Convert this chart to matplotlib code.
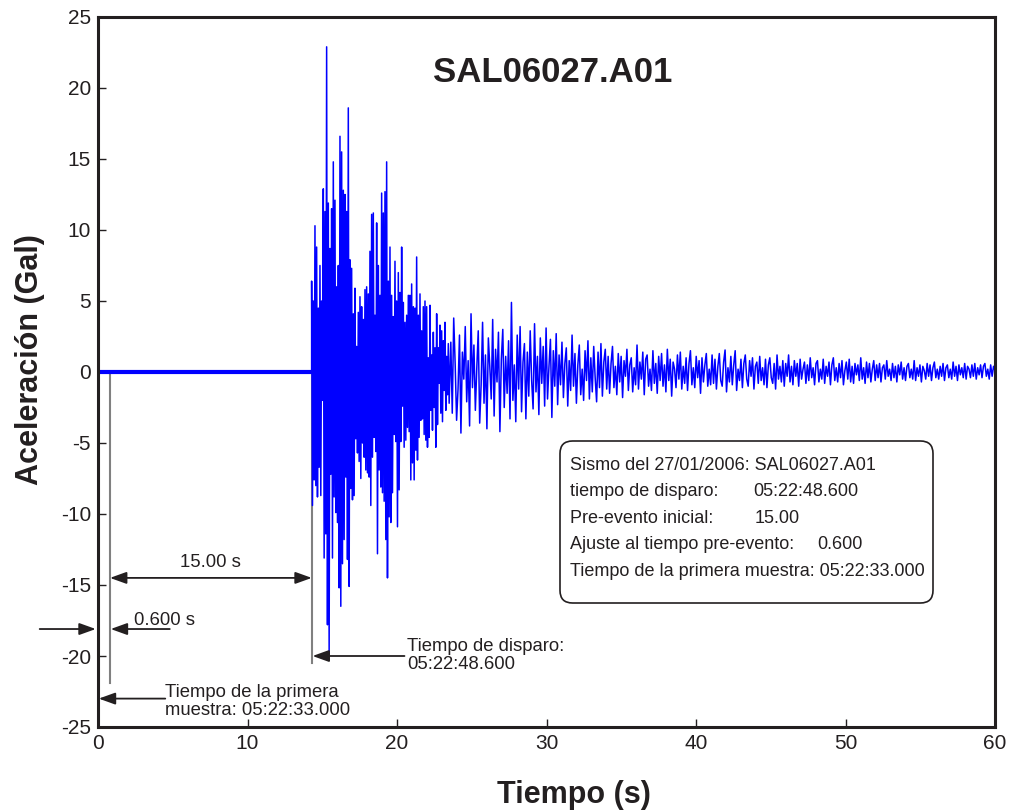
import numpy as np
import matplotlib
matplotlib.use("Agg")
import matplotlib.pyplot as plt
from matplotlib.patches import FancyBboxPatch

plt.rcParams["font.family"] = ["Liberation Sans", "DejaVu Sans"]
plt.rcParams["axes.unicode_minus"] = False

# --- datos ---
# pre-evento (senal plana)
pre_t = [0.1, 14.29]
pre_acc = [0.0, 0.0]

# fase fuerte: picos y valles alternados, cada 0.1115 s desde 14.29 s
strong_t0 = 14.29
strong_step = 0.1115
strong_peaks = [
    6.4, 5.0, 10.3, 8.8, 4.5, 7.5, 5.0, 12.9, 11.3, 22.9,
    11.9, 8.7, 11.5, 14.8, 12.1, 6.0, 7.5, 16.6, 15.5, 12.8,
    12.5, 11.3, 18.6, 7.9, 7.3, 4.1, 5.9, 1.8, 4.2, 5.3,
    4.6, 3.7, 5.8, 6.0, 5.5, 8.5, 11.1, 11.2, 4.0, 10.5,
    7.5, 5.4, 12.6, 11.2, 12.7, 14.8, 6.4, 8.8, 5.4, 3.9,
    7.8, 5.0, 7.0, 5.6, 8.8, 4.9, 3.5, 4.0, 5.4, 5.4,
    6.2, 4.6, 4.5, 8.1, 4.0, 5.5, 2.9, 4.6, 5.0, 4.6,
    1.0, 4.7, 1.2, 2.8, 1.7, 4.1, 1.7, 3.3, 2.9, 2.2,
    3.5, 1.1, 2.0,
]
strong_troughs = [
    -9.4, -7.6, -8.0, -8.8, -6.7, -8.7, -2.0, -13.1, -11.4, -17.8,
    -19.9, -7.2, -13.1, -8.8, -9.9, -10.6, -15.2, -16.5, -13.5, -11.8,
    -7.4, -13.2, -15.1, -8.2, -9.0, -8.7, -4.7, -5.7, -6.3, -7.5,
    -5.0, -6.0, -6.9, -7.1, -7.4, -9.4, -6.0, -4.6, -5.6, -12.8,
    -6.9, -8.1, -8.5, -9.1, -11.8, -14.5, -10.2, -10.6, -8.5, -4.4,
    -4.9, -10.9, -8.3, -4.9, -2.4, -5.3, -4.8, -3.9, -4.2, -7.6,
    -6.4, -7.6, -5.5, -6.2, -4.6, -3.4, -3.3, -4.4, -4.8, -5.3,
    -4.6, -2.7, -4.1, -2.5, -5.3, -3.7, -0.8, -2.9, -3.5, -1.3,
    -2.7, -1.6, -2.2,
]

# coda: muestras de 23.6 s a 60 s
tail_t0 = 23.6
tail_t1 = 60.0
tail_acc = [
    # 23.6 - 27.7
    2.1, -2.9, 3.8, 0.6, -3.4, -1.2, 2.6, -4.3, 1.4, -0.5, 3.2, -2.1, 0.8, -3.8,
    4.1, -1.1, 1.9, -2.7, 0.3, 2.9, -3.6, -0.9, 3.5, -2.2, 1.2, -4.0, 2.4, 0.4,
    -1.9, 3.7, -3.1, 1.6, -0.7, 2.8, -4.2, 0.9, 3.0, -2.5, 1.1, -1.5, 2.2, -3.3,
    # 27.7 - 30.7
    4.9, -2.0, 0.5, -3.5, 2.6, -1.2, 3.2, -2.8, 0.7, 2.0, -3.3, 1.4, -1.7, 2.9,
    -0.6, -2.6, 3.4, -1.4, 1.1, -3.0, 2.4, -0.8, 1.8, -2.4, 3.1, -1.9, 0.4, 2.3,
    -3.2, 1.5, -1.0, 2.7,
    # 30.7 - 34.2
    -2.3, 1.2, -0.9, 2.1, -1.8, 0.6, 1.7, -2.4, 0.8, -1.3, 2.6, -1.0, 1.3, -2.2,
    0.5, 1.9, -1.6, 0.2, -2.0, 1.5, -0.6, 2.2, -1.9, 1.0, -1.4, 1.8, -0.4, -2.1,
    1.4, -1.1, 2.0, -1.7, 0.7, 1.6, -1.2, 1.1,
    # 34.2 - 37.7
    -1.5, 0.6, 1.8, -1.1, 0.4, -1.6, 1.3, -0.7, 1.1, -1.8, 0.8, -0.3, 1.6, -1.3,
    0.5, 1.0, -1.4, 0.3, -0.9, 1.9, -1.2, 0.7, -0.5, 1.4, -1.6, 0.9, 1.2, -1.0,
    0.2, -1.3, 1.5, -0.8, 0.6, -1.5, 1.1, -0.6,
    # 37.7 - 41.2
    1.3, -1.0, 0.5, -1.4, 1.6, -0.6, 0.9, -1.7, 0.7, 0.2, -1.1, 1.2, -0.5, 1.4,
    -1.2, 0.4, -0.8, 1.0, -1.3, 0.6, 1.5, -0.9, 0.3, -1.1, 1.1, -0.4, 0.8, -1.5,
    1.0, -0.7, 0.5, 1.3, -1.0, 0.2, -0.9, 1.2,
    # 41.2 - 46.2
    -0.8, 0.9, -1.2, 0.4, 1.3, -0.6, -1.0, 0.7, 1.55, -1.4, 0.3, -0.7, 1.1, -0.9,
    0.5, 1.5, -1.3, 0.2, -0.6, 0.9, -1.1, 0.6, 1.2, -0.5, -1.0, 0.8, -0.3, 1.0,
    -1.2, 0.4, 0.7, -0.8, 1.1, -0.6, 0.3, -0.9, 0.9, -1.1, 0.5, 1.0, -0.4, -0.8,
    0.6, -1.2, 1.2, -0.5, 0.4, -0.7, 0.8, -1.0, 0.6, -0.3,
    # 46.2 - 52.2
    1.2, -0.7, 0.4, -0.9, 0.8, -0.3, 0.6, -1.0, 0.9, -0.5, 0.2, 0.7, -0.8, 0.5,
    -0.6, 1.0, -0.4, 0.3, -0.9, 0.6, 0.8, -0.7, 0.2, -0.5, 0.9, -0.8, 0.4, -0.3,
    0.7, -0.9, 0.5, 1.0, -0.6, 0.3, -0.7, 0.6, -0.4, 0.8, -0.9, 0.1, 0.7, -0.5,
    0.9, -0.7, 0.4, -0.8, 0.6, -0.2, 0.5, -0.6, 1.0, -0.5, 0.3, -0.8, 0.7, -0.4,
    0.6, -0.7, 0.2, 0.8, -0.6, 0.5,
    # 52.2 - 60
    -0.4, 0.6, -0.7, 0.3, 0.5, -0.5, 0.8, -0.3, 0.2, -0.6, 0.6, -0.4, 0.4, -0.7,
    0.5, -0.2, 0.7, -0.5, 0.3, -0.6, 0.4, 0.6, -0.4, 0.2, -0.5, 0.8, -0.6, 0.3,
    -0.3, 0.5, -0.7, 0.4, 0.1, -0.5, 0.6, -0.3, 0.5, -0.6, 0.3, 0.7, -0.4, 0.2,
    -0.5, 0.4, -0.3, 0.6, -0.6, 0.3, 0.5, -0.4, 0.2, -0.5, 0.7, -0.3, 0.4, -0.6,
    0.5, -0.2, 0.3, -0.4, 0.6, -0.5, 0.4, 0.2, -0.4, 0.5, -0.3, 0.6, -0.5, 0.3,
    -0.2, 0.5, -0.4, 0.4, 0.6, -0.3, 0.2, -0.5, 0.5, -0.3, 0.4, 0.1,
]

x_ticks = [0, 10, 20, 30, 40, 50, 60]
y_ticks = [-25, -20, -15, -10, -5, 0, 5, 10, 15, 20, 25]

info_lines = [
    ("Sismo del 27/01/2006: SAL06027.A01", None),
    ("tiempo de disparo:", "05:22:48.600"),
    ("Pre-evento inicial:", "15.00"),
    ("Ajuste al tiempo pre-evento:", "0.600"),
    ("Tiempo de la primera muestra: 05:22:33.000", None),
]

# --- serie completa ---
strong_acc = np.column_stack([strong_peaks, strong_troughs]).ravel()
strong_t = strong_t0 + np.arange(len(strong_acc)) * strong_step / 2
tail_t = np.linspace(tail_t0, tail_t1, len(tail_acc))
t = np.concatenate([pre_t, strong_t, tail_t])
acc = np.concatenate([pre_acc, strong_acc, tail_acc])

dark = "#231f20"
grey = "#808080"

fig = plt.figure(figsize=(10.13, 8.11), dpi=100)
ax = fig.add_axes([98 / 1013, 1 - 727 / 811, 897 / 1013, 710 / 811])

# lineas guia grises
ax.plot([0.8, 0.8], [0, -21.9], color=grey, lw=1.5, zorder=1)
ax.plot([14.3, 14.3], [0, -20.5], color=grey, lw=1.5, zorder=1)

ax.plot(pre_t, pre_acc, color="#0000ff", lw=3.0, zorder=2, solid_capstyle="butt")
ax.plot(t, acc, color="#0000ff", lw=1.1, zorder=2)

ax.set_xlim(0, 60)
ax.set_ylim(-25, 25)
ax.set_xticks(x_ticks)
ax.set_yticks(y_ticks)
ax.tick_params(direction="in", length=6, width=1, labelsize=15, colors=dark,
               top=False, right=False, pad=5)
for s in ax.spines.values():
    s.set_linewidth(2.2)
    s.set_color(dark)

ax.text(30.4, 21.1, "SAL06027.A01", fontsize=25, fontweight="bold",
        ha="center", va="center", color=dark)

head = "-|>,head_length=0.5,head_width=0.18"
head2 = "<|-|>,head_length=0.5,head_width=0.18"


def arrow(xy, xytext, style=head):
    ax.annotate("", xy=xy, xytext=xytext, annotation_clip=False,
                arrowprops=dict(arrowstyle=style, color=dark, lw=1.3,
                                mutation_scale=20, shrinkA=0, shrinkB=0))


arrow((0.8, -14.5), (14.3, -14.5), style=head2)
ax.text(7.5, -13.4, "15.00 s", fontsize=13.3, ha="center", va="center", color=dark)

arrow((-0.15, -18.1), (-3.9, -18.1))
arrow((0.85, -18.1), (4.8, -18.1))
ax.text(2.4, -17.5, "0.600 s", fontsize=13.3, ha="left", va="center", color=dark)

arrow((14.35, -20.0), (20.5, -20.0))
ax.text(20.7, -19.95, "Tiempo de disparo:\n05:22:48.600", fontsize=13.3,
        ha="left", va="center", linespacing=1.1, color=dark)

arrow((0.05, -23.0), (4.5, -23.0))
ax.text(4.45, -23.2, "Tiempo de la primera\nmuestra: 05:22:33.000", fontsize=13.3,
        ha="left", va="center", linespacing=1.1, color=dark)

# cuadro de informacion
bx0, bx1 = (560 - 98) / 897, (933 - 98) / 897
by0, by1 = (727 - 603) / 710, (727 - 441) / 710
box = FancyBboxPatch((bx0, by0), bx1 - bx0, by1 - by0,
                     boxstyle="round,pad=0,rounding_size=0.014",
                     mutation_aspect=897 / 710, transform=ax.transAxes,
                     facecolor="white", edgecolor=dark, lw=1.2, zorder=3)
ax.add_patch(box)
line_y = [-6.55, -8.43, -10.30, -12.18, -14.06]
value_x = [None, 43.81, 43.95, 48.09, None]
for (label, value), y, vx in zip(info_lines, line_y, value_x):
    ax.text(31.57, y, label, fontsize=13.0, ha="left", va="center", color=dark, zorder=4)
    if value:
        ax.text(vx, y, value, fontsize=13.0, ha="left", va="center", color=dark, zorder=4)

fig.text(574 / 1013, 1 - 795 / 811, "Tiempo (s)", fontsize=22, fontweight="bold",
         ha="center", va="center", color=dark)
fig.text(30 / 1013, 1 - 360 / 811, "Aceleración (Gal)", fontsize=22, fontweight="bold",
         ha="center", va="center", rotation=90, color=dark)

fig.savefig("out.png", dpi=100)
